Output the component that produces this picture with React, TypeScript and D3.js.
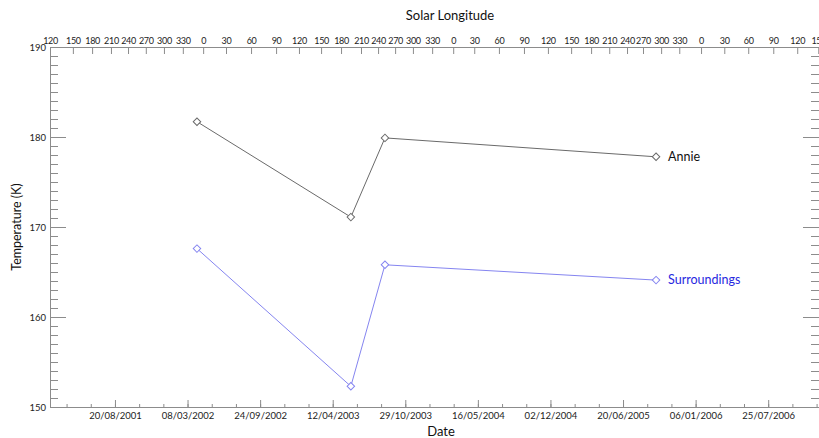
import { useRef, useEffect } from 'react';
import * as d3 from 'd3';

// observation dates and temperatures (K)
const obsDates = ['03/04/2002', '01/06/2003', '03/09/2003', '19/09/2005'];
const annieTemps = [181.7, 171.1, 179.9, 177.8];
const surroundTemps = [167.6, 152.3, 165.8, 164.1];

// bottom axis
const dateTicks = [
  '20/08/2001', '08/03/2002', '24/09/2002', '12/04/2003', '29/10/2003',
  '16/05/2004', '02/12/2004', '20/06/2005', '06/01/2006', '25/07/2006',
];
const dateDomain = ['22/02/2001', '12/12/2006'];

// top axis: solar longitude labels and the date each one falls on
const lsLabels = [
  120, 150, 180, 210, 240, 270, 300, 330, 0, 30, 60, 90,
  120, 150, 180, 210, 240, 270, 300, 330, 0, 30, 60, 90,
  120, 150, 180, 210, 240, 270, 300, 330, 0, 30, 60, 90, 120, 150,
];
const lsDates = [
  '22/02/2001', '26/04/2001', '18/06/2001', '09/08/2001', '25/09/2001', '13/11/2001',
  '02/01/2002', '23/02/2002', '20/04/2002', '22/06/2002', '30/08/2002', '07/11/2002',
  '09/01/2003', '11/03/2003', '05/05/2003', '29/06/2003', '15/08/2003', '01/10/2003',
  '19/11/2003', '11/01/2004', '09/03/2004', '06/05/2004', '13/07/2004', '20/09/2004',
  '25/11/2004', '28/01/2005', '24/03/2005', '13/05/2005', '01/07/2005', '14/08/2005',
  '03/10/2005', '22/11/2005', '21/01/2006', '26/03/2006', '31/05/2006', '08/08/2006',
  '13/10/2006', '10/12/2006',
];

const tempDomain = [150, 190];
const tempTicks = [150, 160, 170, 180, 190];

const seriesNames = ['Annie', 'Surroundings'];

const W = 819;
const H = 438;
const FONT = 'Lato, "Open Sans", sans-serif';

export default function App() {
  const svgRef = useRef<SVGSVGElement>(null);

  useEffect(() => {
    if (!svgRef.current) return;
    const svg = d3.select(svgRef.current);
    svg.selectAll('*').remove();

    const parse = d3.timeParse('%d/%m/%Y');
    const margin = { top: 47, right: 0, bottom: 31, left: 50 };
    const x0 = margin.left;
    const x1 = W - margin.right;
    const y0 = margin.top;
    const y1 = H - margin.bottom;

    const x = d3.scaleTime()
      .domain(dateDomain.map(d => parse(d)!))
      .range([x0, x1]);
    const y = d3.scaleLinear().domain(tempDomain).range([y1, y0]);

    const axisColor = '#8c8c8c';
    const styleAxis = (g: d3.Selection<SVGGElement, unknown, null, undefined>) => {
      g.selectAll('path').attr('stroke', axisColor);
      g.selectAll('line').attr('stroke', axisColor);
      g.selectAll('text').attr('fill', '#222').attr('font-family', FONT);
    };

    // bottom axis - majors every 200 days, minors in thirds
    const majors = dateTicks.map(d => parse(d)!);
    const step = (majors[1].getTime() - majors[0].getTime()) / 3;
    const [dMin, dMax] = x.domain().map(d => d.getTime());
    const minors: Date[] = [];
    for (let t = majors[0].getTime(); t >= dMin; t -= step) minors.push(new Date(t));
    for (let t = majors[0].getTime() + step; t <= dMax; t += step) minors.push(new Date(t));

    svg.append('g')
      .attr('transform', `translate(0,${y1})`)
      .call(d3.axisBottom(x).tickValues(minors).tickSize(-3).tickSizeOuter(0).tickFormat(() => ''))
      .call(styleAxis);
    svg.append('g')
      .attr('transform', `translate(0,${y1})`)
      .call(d3.axisBottom(x).tickValues(majors).tickSize(-7).tickSizeOuter(0).tickPadding(4)
        .tickFormat(d => d3.timeFormat('%d/%m/%Y')(d as Date)))
      .call(styleAxis)
      .selectAll('text')
      .attr('font-size', 9.5)
      .attr('dy', '1em')
      .attr('y', 2);

    // top axis - solar longitude
    const lsTickDates = lsDates.map(d => parse(d)!);
    svg.append('g')
      .attr('transform', `translate(0,${y0})`)
      .call(d3.axisTop(x).tickValues(lsTickDates).tickSize(-7).tickSizeOuter(0).tickPadding(3)
        .tickFormat((_, i) => String(lsLabels[i])))
      .call(styleAxis)
      .selectAll('text')
      .attr('font-size', 9)
      .attr('letter-spacing', -0.3);

    // left and right axes
    const minorTemps = d3.range(tempDomain[0], tempDomain[1] + 1, 1);
    svg.append('g')
      .attr('transform', `translate(${x0},0)`)
      .call(d3.axisLeft(y).tickValues(minorTemps).tickSize(-8).tickSizeOuter(0).tickFormat(() => ''))
      .call(styleAxis);
    svg.append('g')
      .attr('transform', `translate(${x0},0)`)
      .call(d3.axisLeft(y).tickValues(tempTicks).tickSize(-16).tickSizeOuter(0).tickPadding(4))
      .call(styleAxis)
      .selectAll('text')
      .attr('font-size', 9.5);
    svg.append('g')
      .attr('transform', `translate(${x1},0)`)
      .call(d3.axisRight(y).tickValues(minorTemps).tickSize(-8).tickSizeOuter(0).tickFormat(() => ''))
      .call(styleAxis);
    svg.append('g')
      .attr('transform', `translate(${x1},0)`)
      .call(d3.axisRight(y).tickValues(tempTicks).tickSize(-16).tickSizeOuter(0).tickFormat(() => ''))
      .call(styleAxis);

    // series
    const dates = obsDates.map(d => parse(d)!);
    const series = [
      { name: seriesNames[0], values: annieTemps, line: '#6a6a6a', label: '#111' },
      { name: seriesNames[1], values: surroundTemps, line: '#8585f0', label: '#2828e0' },
    ];
    const line = d3.line<number>()
      .x((_, i) => x(dates[i]))
      .y(v => y(v));
    const marker = d3.symbol().type(d3.symbolSquare).size(28);

    series.forEach(s => {
      svg.append('path')
        .attr('d', line(s.values))
        .attr('fill', 'none')
        .attr('stroke', s.line)
        .attr('stroke-width', 1);

      svg.selectAll(null)
        .data(s.values)
        .enter()
        .append('path')
        .attr('d', marker()!)
        .attr('transform', (v, i) => `translate(${x(dates[i])},${y(v)}) rotate(45)`)
        .attr('fill', 'white')
        .attr('stroke', s.line)
        .attr('stroke-width', 1);

      const last = s.values.length - 1;
      svg.append('text')
        .attr('x', x(dates[last]) + 12)
        .attr('y', y(s.values[last]))
        .attr('dy', '0.35em')
        .attr('font-family', FONT)
        .attr('font-size', 12.5)
        .attr('fill', s.label)
        .text(s.name);
    });

    // titles
    svg.append('text')
      .attr('x', 450)
      .attr('y', 15)
      .attr('dy', '0.35em')
      .attr('text-anchor', 'middle')
      .attr('font-family', FONT)
      .attr('font-size', 13)
      .attr('fill', '#111')
      .text('Solar Longitude');

    svg.append('text')
      .attr('x', 441)
      .attr('y', 431)
      .attr('dy', '0.35em')
      .attr('text-anchor', 'middle')
      .attr('font-family', FONT)
      .attr('font-size', 13)
      .attr('fill', '#111')
      .text('Date');

    svg.append('text')
      .attr('transform', `translate(17,${(y0 + y1) / 2}) rotate(-90)`)
      .attr('dy', '0.35em')
      .attr('text-anchor', 'middle')
      .attr('font-family', FONT)
      .attr('font-size', 12.5)
      .attr('fill', '#111')
      .text('Temperature (K)');
  }, []);

  return (
    <svg
      ref={svgRef}
      width={W}
      height={H}
      style={{ position: 'absolute', left: 0, top: 0, background: 'white' }}
    />
  );
}
